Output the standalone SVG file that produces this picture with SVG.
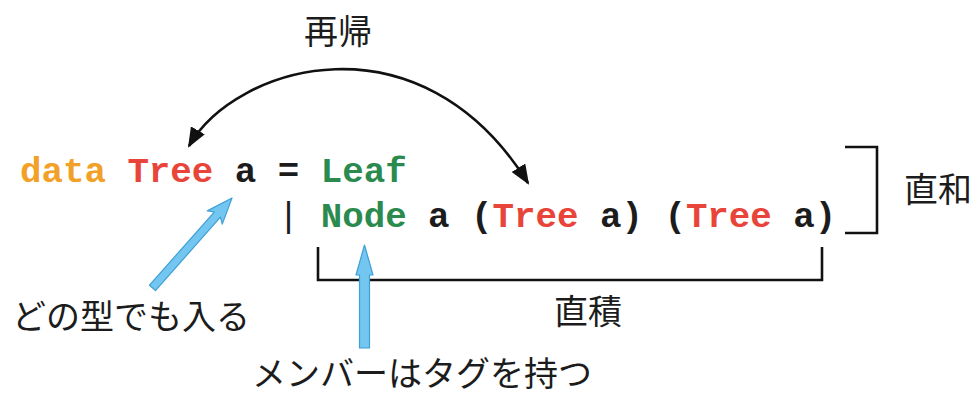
<svg xmlns="http://www.w3.org/2000/svg" width="979" height="396" viewBox="0 0 979 396">
  <style>
    .code { font-family: "Liberation Mono", "DejaVu Sans Mono", monospace; font-size: 35.8px; font-weight: bold; }
    .kw { fill: #f2a128; }
    .ty { fill: #e8443a; }
    .ctor { fill: #2b8a4e; }
    .plain { fill: #1c1c1c; }
    .thin { font-weight: normal; }
    .label { font-family: "Noto Sans CJK JP", "Noto Sans", sans-serif; font-size: 34px; fill: #1c1c1c; }
    .bracket { fill: none; stroke: #111; stroke-width: 2.6; }
    .curve { fill: none; stroke: #111; stroke-width: 2.6; }
    .pointer { fill: #73c6f0; stroke: #3f9fd6; stroke-width: 1.2; stroke-linejoin: round; }
  </style>
  <defs>
    <marker id="head" viewBox="0 0 20 16" refX="18" refY="8" markerWidth="20" markerHeight="16" markerUnits="userSpaceOnUse" orient="auto-start-reverse">
      <path d="M0 0 L20 8 L0 16 Z" fill="#111"/>
    </marker>
  </defs>

  <rect width="979" height="396" fill="#ffffff"/>

  <!-- data declaration -->
  <g id="code">
    <text class="code" y="182">
      <tspan class="kw" x="20">data</tspan>
      <tspan class="ty" x="127.4">Tree</tspan>
      <tspan class="plain" x="234.8">a</tspan>
      <tspan class="plain" x="277.8">=</tspan>
      <tspan class="ctor" x="320.7">Leaf</tspan>
    </text>
    <text class="code" y="227">
      <tspan class="plain thin" x="277.8">|</tspan>
      <tspan class="ctor" x="320.7">Node</tspan>
      <tspan class="plain" x="428.1">a</tspan>
      <tspan class="plain" x="471.1">(</tspan>
      <tspan class="ty" x="492.6">Tree</tspan>
      <tspan class="plain" x="600">a)</tspan>
      <tspan class="plain" x="664.4">(</tspan>
      <tspan class="ty" x="685.9">Tree</tspan>
      <tspan class="plain" x="793.3">a)</tspan>
    </text>
  </g>

  <!-- labels -->
  <g id="recursion-label"><text class="label" x="304" y="44">再帰</text></g>
  <g id="sum-label"><text class="label" x="904" y="202">直和</text></g>
  <g id="product-label"><text class="label" x="554" y="324">直積</text></g>
  <g id="any-type-label"><text class="label" x="12" y="329">どの型でも入る</text></g>
  <g id="tag-label"><text class="label" x="252" y="386">メンバーはタグを持つ</text></g>

  <!-- connectors -->
  <g id="connectors">
    <path class="curve" d="M189 146 C235 65, 420 10, 528 183" marker-start="url(#head)" marker-end="url(#head)"/>
    <path class="bracket" d="M845 147 H877 V233 H845"/>
    <path class="bracket" d="M318 247 V280 H822 V247"/>
    <!-- pointer to the type parameter -->
    <path class="pointer" transform="translate(232 198) rotate(131.5)" d="M0 0 L26 -10 L22 -4 L120 -4 L120 4 L22 4 L26 10 Z"/>
    <!-- pointer to the constructor tag -->
    <path class="pointer" d="M364.5 245 L373 275 L369.5 275 L369.5 348 L359.5 348 L359.5 275 L356 275 Z"/>
  </g>
</svg>
